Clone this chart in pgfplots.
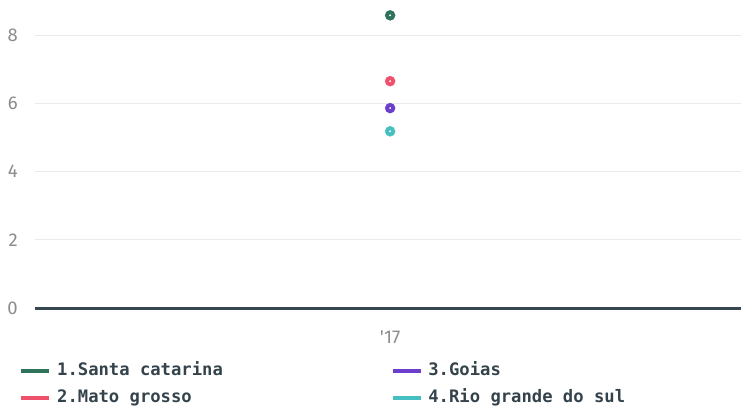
\documentclass[border=0pt]{standalone}
\usepackage{pgfplots}
\pgfplotsset{compat=1.18}
\usepackage{fontspec}
\setmainfont{Fira Sans}
\newfontfamily\legfont{DejaVu Sans Mono}
\definecolor{cgreen}{HTML}{2E735A}
\definecolor{cred}{HTML}{EF506C}
\definecolor{cpurple}{HTML}{6B3FCB}
\definecolor{cteal}{HTML}{45BFC0}
\definecolor{caxis}{HTML}{37474F}
\definecolor{cgrid}{HTML}{EBEBEB}
\definecolor{ctick}{HTML}{8C8C8C}
\definecolor{clegtext}{HTML}{34434B}
\begin{document}
\begin{tikzpicture}
\begin{axis}[
  scale only axis,
  width=706bp, height=307bp,
  xmin=-1, xmax=0.988, ymin=0, ymax=9,
  separate axis lines,
  axis x line*=bottom,
  axis y line*=left,
  x axis line style={caxis, line width=3bp, -},
  y axis line style={draw=none},
  tick style={draw=none},
  xtick={0}, xticklabels={\textquotesingle17},
  ytick={0,2,4,6,8},
  ymajorgrids,
  major grid style={cgrid, line width=1bp},
  /pgf/number format/assume math mode=true,
  ticklabel style={font=\fontsize{18.5bp}{20bp}\selectfont, color=ctick},
  yticklabel style={inner sep=0pt, anchor=east, xshift=-17bp},
  xticklabel style={inner sep=0pt, anchor=center, yshift=-29bp},
  legend columns=2,
  transpose legend,
  legend cell align=left,
  legend image code/.code={\draw[line width=3.5bp, #1] (0bp,0bp) -- (28bp,0bp);},
  legend style={
    draw=none, fill=none, inner sep=0pt,
    at={(rel axis cs:0,0)}, anchor=north west, xshift=-15.5bp, yshift=-55bp,
    font=\legfont\bfseries\fontsize{17.2bp}{19bp}\selectfont,
    text=clegtext,
    column sep=6bp, row sep=11bp,
    nodes={inner sep=0pt, text height=12bp, text depth=4bp, anchor=west},
    /tikz/every even column/.append style={column sep=168bp},
  },
]
\addplot[only marks, mark=*, mark size=5bp, draw=cgreen, fill=cgreen, color=cgreen] coordinates {(0,8.58)};
\addlegendentry{1.Santa catarina}
\addplot[only marks, mark=*, mark size=5bp, draw=cred, fill=cred, color=cred] coordinates {(0,6.65)};
\addlegendentry{2.Mato grosso}
\addplot[only marks, mark=*, mark size=5bp, draw=cpurple, fill=cpurple, color=cpurple] coordinates {(0,5.86)};
\addlegendentry{3.Goias}
\addplot[only marks, mark=*, mark size=5bp, draw=cteal, fill=cteal, color=cteal] coordinates {(0,5.18)};
\addlegendentry{4.Rio grande do sul}
\addplot[only marks, mark=*, mark size=0.7bp, draw=white, fill=white, forget plot] coordinates {(0,8.58) (0,6.65) (0,5.86) (0,5.18)};
\end{axis}
\pgfresetboundingbox
\useasboundingbox (-35bp,-100bp) rectangle (706bp,308bp);
\end{tikzpicture}
\end{document}
